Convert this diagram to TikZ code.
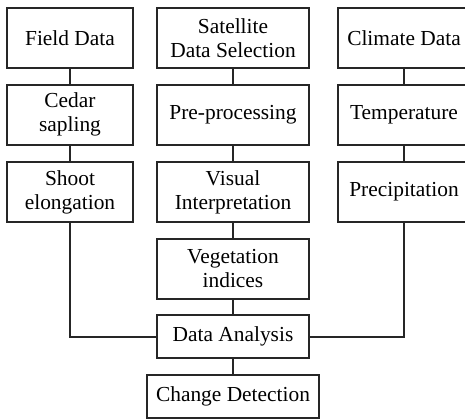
\documentclass[tikz,border=0pt]{standalone}
\usepackage{fontspec}
\setmainfont{Liberation Serif}
\begin{document}
\begin{tikzpicture}[x=0.5pt,y=-0.5pt,
  box/.style={draw=black!85,line width=1pt,inner sep=0pt,align=center,
    font=\fontsize{10.7}{12}\selectfont,text=black},
  lcol/.style={box,minimum width=63pt},
  mcol/.style={box,minimum width=76pt},
  rcol/.style={box,minimum width=66pt},
  tall/.style={minimum height=30pt},
  low/.style={minimum height=21.5pt},
  link/.style={draw=black!85,line width=1pt}]
\useasboundingbox (0,0) rectangle (465,419);
\clip (0,0) rectangle (465,419);
\node[lcol,tall] (field) at (70,38) {Field Data};
\node[lcol,tall] (cedar) at (70,114.5) {Cedar\\sapling};
\node[lcol,tall] (shoot) at (70,192) {Shoot\\elongation};
\node[mcol,tall] (sat) at (233,38) {Satellite\\Data Selection};
\node[mcol,tall] (pre) at (233,114.5) {Pre-processing};
\node[mcol,tall] (vis) at (233,192) {Visual\\Interpretation};
\node[mcol,tall] (veg) at (233,268.5) {Vegetation\\indices};
\node[mcol,low] (da) at (233,336.5) {Data Analysis};
\node[box,low,minimum width=86pt] (cd) at (233,396.5) {Change Detection};
\node[rcol,tall] (clim) at (404,38) {Climate Data};
\node[rcol,tall] (temp) at (404,114.5) {Temperature};
\node[rcol,tall] (prec) at (404,192) {Precipitation};
\draw[link] (field) -- (cedar);
\draw[link] (cedar) -- (shoot);
\draw[link] (sat) -- (pre);
\draw[link] (pre) -- (vis);
\draw[link] (vis) -- (veg);
\draw[link] (veg) -- (da);
\draw[link] (da) -- (cd);
\draw[link] (clim) -- (temp);
\draw[link] (temp) -- (prec);
\draw[link] (shoot.south) |- (da.west);
\draw[link] (prec.south) |- (da.east);
\end{tikzpicture}
\end{document}
